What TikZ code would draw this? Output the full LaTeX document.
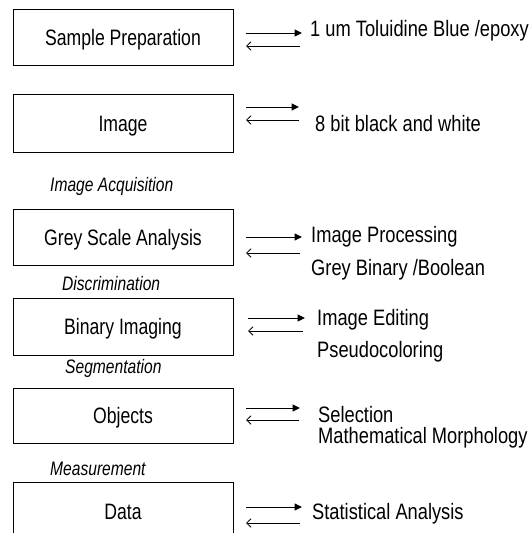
\documentclass[tikz,border=0pt]{standalone}
\usepackage{fontspec}
\setmainfont[FakeStretch=0.8]{Liberation Sans}
\newfontfamily\boxfont[FakeStretch=0.79]{Liberation Sans}
\newfontfamily\notefont[FakeStretch=0.82]{Liberation Sans}
\usetikzlibrary{arrows.meta}

\begin{document}
\begin{tikzpicture}[x=1pt,y=-1pt,
  stage/.style={draw, line width=0.9pt, minimum width=220pt, inner sep=0pt,
    text height=16pt, text depth=0pt, font=\boxfont\fontsize{22.3}{25}\selectfont},
  note/.style={anchor=base west, inner sep=0pt, font=\notefont\fontsize{22.3}{25}\selectfont},
  step label/.style={anchor=base west, inner sep=0pt, font=\fontsize{19.5}{21}\selectfont\itshape},
  fwd/.style={line width=1pt, -{Triangle[length=7.5pt,width=7pt]}},
  back/.style={line width=1pt, -{Straight Barb[length=4.5pt,width=8.5pt,line width=0.8pt]}}]

\useasboundingbox (0,0) rectangle (531,533);
\clip (0,0) rectangle (531,533);
\fill[white] (0,0) rectangle (531,533);

% processing stages
\node[stage, minimum height=56pt] (prep) at (123,37)    {Sample Preparation};
\node[stage, minimum height=58pt] (img)  at (123,123)   {Image};
\node[stage, minimum height=56pt] (grey) at (123,237)   {Grey Scale Analysis};
\node[stage, minimum height=57pt] (bin)  at (123,326.5) {Binary Imaging};
\node[stage, minimum height=55pt] (obj)  at (123,415.5) {Objects};
\node[stage, minimum height=58pt] (data) at (123,511)   {Data};

% operations between stages
\node[step label] (acq)  at (50,191) {Image Acquisition};
\node[step label] (disc) at (62,290) {Discrimination};
\node[step label] (seg)  at (65,373) {Segmentation};
\node[step label] (meas) at (50,475) {Measurement};

% methods for each stage
\node[note] (n1)  at (310,36)  {1 um Toluidine Blue /epoxy};
\node[note] (n2)  at (315,131) {8 bit black and white};
\node[note] (n3a) at (311,242) {Image Processing};
\node[note] (n3b) at (311,275) {Grey Binary /Boolean};
\node[note] (n4a) at (317,325) {Image Editing};
\node[note] (n4b) at (317,357) {Pseudocoloring};
\node[note] (n5a) at (318,422) {Selection};
\node[note] (n5b) at (318,443) {Mathematical Morphology};
\node[note] (n6)  at (312,519) {Statistical Analysis};

% arrow end points
\coordinate (a1) at (246,33);  \coordinate (b1) at (302,33);
\coordinate (c1) at (246,46);  \coordinate (d1) at (300,46);
\coordinate (a2) at (246,107); \coordinate (b2) at (299,107);
\coordinate (c2) at (246,120); \coordinate (d2) at (299,120);
\coordinate (a3) at (246,237); \coordinate (b3) at (302,237);
\coordinate (c3) at (246,253); \coordinate (d3) at (300,253);
\coordinate (a4) at (248,318); \coordinate (b4) at (305,318);
\coordinate (c4) at (248,331); \coordinate (d4) at (303,331);
\coordinate (a5) at (246,408); \coordinate (b5) at (300,408);
\coordinate (c5) at (246,420); \coordinate (d5) at (299,420);
\coordinate (a6) at (246,507); \coordinate (b6) at (302,507);
\coordinate (c6) at (246,523); \coordinate (d6) at (300,523);

\foreach \i in {1,...,6} {
  \draw[fwd]  (a\i) -- (b\i);
  \draw[back] (d\i) -- (c\i);
}
\end{tikzpicture}
\end{document}
